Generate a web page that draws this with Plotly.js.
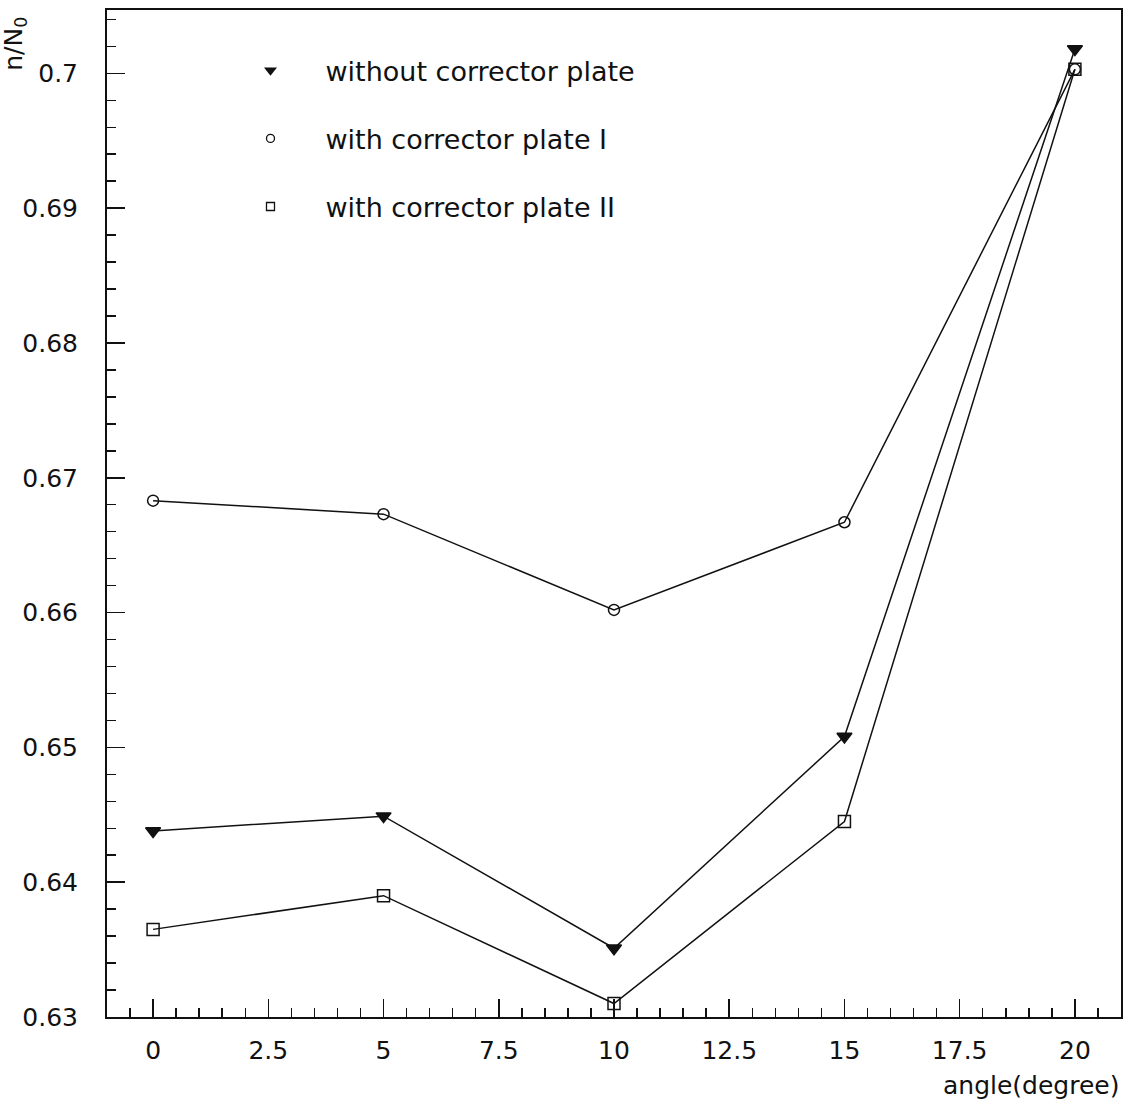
<!DOCTYPE html>
<html>
<head>
<meta charset="utf-8">
<script src="https://cdn.plot.ly/plotly-3.0.1.min.js"></script>
<style>
  html, body { margin: 0; padding: 0; background: #ffffff; }
  #chart { width: 1125px; height: 1104px; }
</style>
</head>
<body>
<div id="chart"></div>
<script>
// ---- data ----
const angles = [0, 5, 10, 15, 20];
const withoutCorrector = [0.6438, 0.6449, 0.6351, 0.6508, 0.7018];
const withCorrectorI   = [0.6683, 0.6673, 0.6602, 0.6667, 0.7003];
const withCorrectorII  = [0.6365, 0.6390, 0.6310, 0.6445, 0.7003];
const seriesNames = ['without corrector plate', 'with corrector plate I', 'with corrector plate II'];
const seriesSymbols = ['triangle-down', 'circle-open', 'square-open'];
const xTitle = 'angle(degree)';
const yTitle = 'n/N<sub>0</sub>';

const ink = '#111111';
const font = 'DejaVu Sans, Liberation Sans, sans-serif';
const seriesValues = [withoutCorrector, withCorrectorI, withCorrectorII];
const markerSizes = [13, 11, 12];
const legendSizes = [9, 8, 8];

const traces = [];
seriesValues.forEach((vals, i) => {
  traces.push({
    x: angles, y: vals, type: 'scatter', mode: 'lines+markers',
    name: seriesNames[i], showlegend: false,
    line: { color: ink, width: 1.5 },
    marker: { symbol: seriesSymbols[i], size: markerSizes[i], color: ink,
              line: { color: ink, width: 1.5 } }
  });
});
// legend entries (marker only, no line)
seriesValues.forEach((vals, i) => {
  traces.push({
    x: [null], y: [null], type: 'scatter', mode: 'markers',
    name: seriesNames[i], showlegend: true, legendgroup: 'g' + i,
    marker: { symbol: seriesSymbols[i], size: legendSizes[i], color: ink,
              line: { color: ink, width: 1.3 } }
  });
});

const layout = {
  width: 1125, height: 1104,
  paper_bgcolor: '#ffffff', plot_bgcolor: '#ffffff',
  margin: { l: 107, r: 4, t: 10, b: 87 },
  font: { family: font, color: ink, size: 25 },
  showlegend: true,
  legend: {
    x: 0.107, y: 0.964, xanchor: 'left', yanchor: 'top',
    bgcolor: 'rgba(0,0,0,0)', borderwidth: 0,
    font: { family: font, size: 27, color: ink },
    itemwidth: 100, traceorder: 'grouped', tracegroupgap: 30
  },
  xaxis: {
    range: [-1, 21], showgrid: false, zeroline: false,
    showline: true, linecolor: ink, linewidth: 2, mirror: true,
    ticks: 'inside', ticklen: 18, tickwidth: 1.5, tickcolor: ink,
    dtick: 2.5, tick0: 0,
    minor: { dtick: 0.5, ticks: 'inside', ticklen: 9, tickwidth: 1.5, tickcolor: ink, showgrid: false },
    tickfont: { family: font, size: 25, color: ink },
    ticklabelstandoff: 10
  },
  yaxis: {
    range: [0.63, 0.7047], showgrid: false, zeroline: false,
    showline: true, linecolor: ink, linewidth: 2, mirror: true,
    ticks: 'inside', ticklen: 18, tickwidth: 1.5, tickcolor: ink,
    dtick: 0.01, tick0: 0.63,
    minor: { dtick: 0.002, ticks: 'inside', ticklen: 9, tickwidth: 1.5, tickcolor: ink, showgrid: false },
    tickfont: { family: font, size: 25, color: ink },
    ticklabelstandoff: 22
  },
  annotations: [
    { xref: 'paper', yref: 'paper', x: 1, y: 0, xanchor: 'right', yanchor: 'top',
      yshift: -52, text: xTitle, showarrow: false,
      font: { family: font, size: 25, color: ink } },
    { xref: 'paper', yref: 'paper', x: -0.091, y: 1, xanchor: 'center', yanchor: 'top',
      yshift: -5, text: yTitle, textangle: -90, showarrow: false,
      font: { family: font, size: 25, color: ink } }
  ]
};

Plotly.newPlot('chart', traces, layout, { displayModeBar: false, staticPlot: true });
</script>
</body>
</html>
